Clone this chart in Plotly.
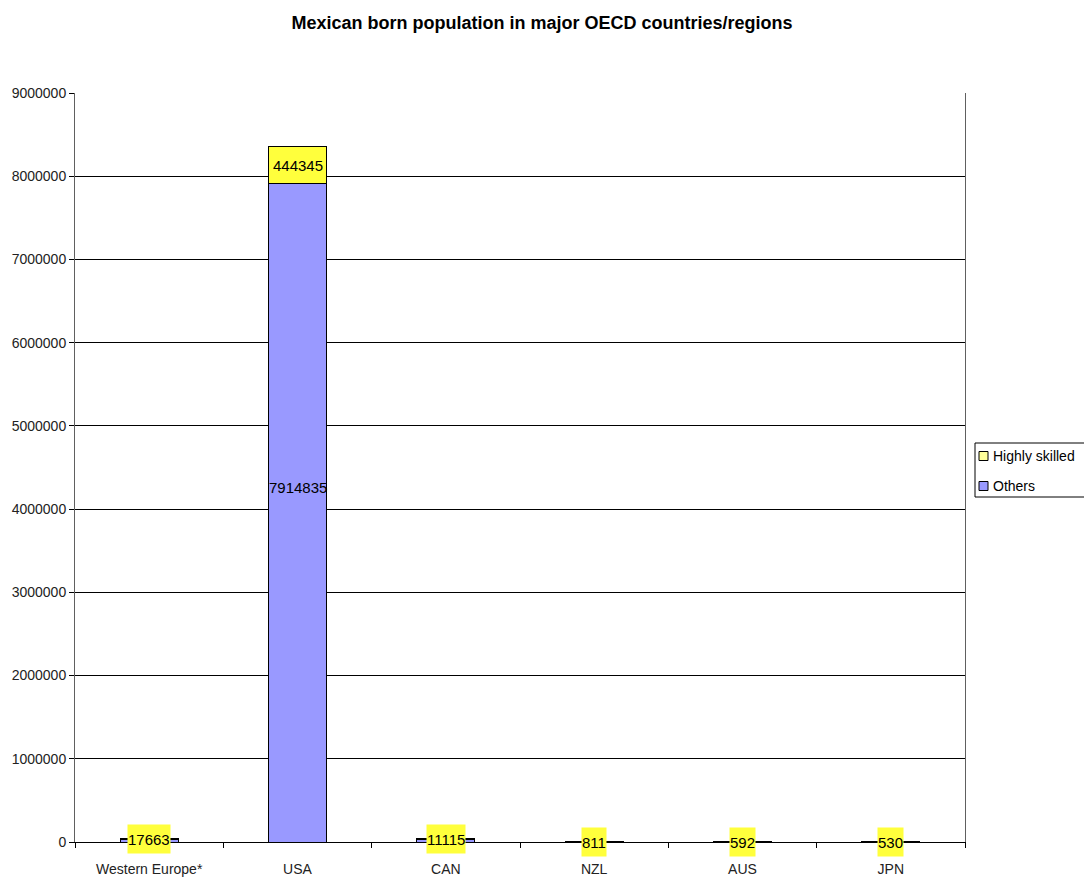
import plotly.graph_objects as go

categories = ["Western Europe*", "USA", "CAN", "NZL", "AUS", "JPN"]
highly_skilled = [17663, 444345, 11115, 811, 592, 530]
others = [30000, 7914835, 25000, 700, 1500, 1500]
series_names = ["Highly skilled", "Others"]

yellow = "#FFFF3C"
purple = "#9999FF"
legend_colors = ["#FFFF99", purple]

fig = go.Figure()
fig.add_trace(go.Bar(x=categories, y=others, name=series_names[1], showlegend=False,
                     marker=dict(color=purple, line=dict(color="black", width=1))))
fig.add_trace(go.Bar(x=categories, y=highly_skilled, name=series_names[0], showlegend=False,
                     marker=dict(color=yellow, line=dict(color="black", width=1))))

font = "Liberation Sans, Arial, sans-serif"
# Highly skilled labels (yellow background)
for c, o, h in zip(categories, others, highly_skilled):
    fig.add_annotation(x=c, y=o + h / 2, text=str(h), showarrow=False,
                       bgcolor=yellow, borderpad=0, height=28,
                       font=dict(family=font, size=15, color="black"))
# Others label only where the segment is visible
for c, o in zip(categories, others):
    if o > 1000000:
        fig.add_annotation(x=c, y=o / 2, text=str(o), showarrow=False, yshift=25,
                           font=dict(family=font, size=15, color="black"))

# Legend drawn in paper coordinates (Excel-style, clipped at right edge)
L, R, T, B = 75, 965, 93, 842
def px(x):
    return (x - L) / (R - L)
def py(y):
    return (B - y) / (B - T)

fig.add_shape(type="rect", xref="paper", yref="paper",
              x0=px(975), x1=px(1095), y0=py(497), y1=py(443),
              line=dict(color="black", width=1), fillcolor="white", layer="above")
for i, (name, col) in enumerate(zip(series_names, legend_colors)):
    cy = 456 + i * 30
    fig.add_shape(type="rect", xref="paper", yref="paper",
                  x0=px(979), x1=px(988), y0=py(cy + 4.5), y1=py(cy - 4.5),
                  line=dict(color="black", width=1), fillcolor=col, layer="above")
    fig.add_annotation(xref="paper", yref="paper", x=px(991), y=py(cy),
                       xanchor="left", yanchor="middle", text=name, showarrow=False,
                       font=dict(family=font, size=14, color="black"))

fig.update_layout(
    barmode="stack",
    bargap=0.61,
    width=1084, height=882,
    margin=dict(l=75, r=119, t=93, b=40, autoexpand=False),
    paper_bgcolor="white", plot_bgcolor="white",
    title=dict(text="<b>Mexican born population in major OECD countries/regions</b>",
               x=0.5, xanchor="center", y=0.974, yanchor="middle",
               font=dict(family=font, size=18, color="black")),
    showlegend=False,
)
fig.update_yaxes(range=[0, 9000000], dtick=1000000, tickformat="d",
                 showgrid=True, gridcolor="black", gridwidth=1,
                 showline=True, linecolor="#606060", mirror=True,
                 ticks="outside", ticklen=5, tickcolor="black",
                 zeroline=False,
                 tickfont=dict(family=font, size=14, color="#222"))
fig.update_xaxes(showline=True, linecolor="black", linewidth=1,
                 ticks="outside", ticklen=5, tickcolor="black", tickson="boundaries",
                 ticklabelstandoff=14,
                 tickfont=dict(family=font, size=14, color="#222"))

fig.write_html("out.html")
